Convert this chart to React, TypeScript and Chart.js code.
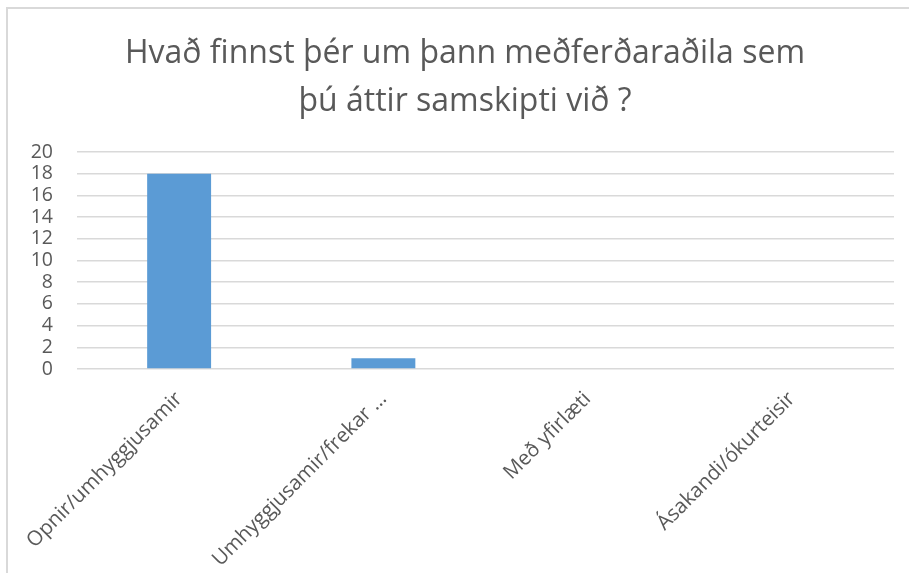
import React, { useEffect, useRef } from "react";
import { Chart, registerables } from "chart.js";

Chart.register(...registerables);

const titleLines = ["Hvað finnst þér um þann meðferðaraðila sem", "þú áttir samskipti við ?"];
const categories = ["Opnir/umhyggjusamir", "Umhyggjusamir/frekar …", "Með yfirlæti", "Ásakandi/ókurteisir"];
const values = [18, 1, 0, 0];
const yMin = 0;
const yMax = 20;
const yStep = 2;

const titleShift = {
  id: "titleShift",
  afterLayout(chart: any) {
    if (chart.titleBlock) {
      chart.titleBlock.left = 36;
    }
  },
};

export default function App() {
  const ref = useRef<HTMLCanvasElement>(null);
  useEffect(() => {
    if (!ref.current) return;
    const font = "'Open Sans', 'DejaVu Sans', sans-serif";
    const chart = new Chart(ref.current, {
      type: "bar",
      data: {
        labels: categories,
        datasets: [
          {
            data: values,
            backgroundColor: "#5b9bd5",
            barPercentage: 0.313,
            categoryPercentage: 1,
          },
        ],
      },
      plugins: [titleShift],
      options: {
        animation: false,
        responsive: false,
        maintainAspectRatio: false,
        layout: { padding: { left: 0, right: 15, top: 0, bottom: 0 } },
        plugins: {
          legend: { display: false },
          tooltip: { enabled: false },
          title: {
            display: true,
            text: titleLines,
            color: "#595959",
            font: { family: font, size: 32, weight: "normal", lineHeight: 1.5 },
            padding: { top: 30, bottom: 26 },
          },
        },
        scales: {
          x: {
            grid: { display: false },
            border: { display: false },
            ticks: {
              color: "#595959",
              font: { family: font, size: 20.5 },
              minRotation: 45,
              maxRotation: 45,
              autoSkip: false,
              padding: 10,
            },
            afterFit: (s: any) => {
              s.height = 204;
            },
          },
          y: {
            min: yMin,
            max: yMax,
            grid: { color: "#d9d9d9", lineWidth: 1.5, drawTicks: false },
            border: { display: false },
            ticks: {
              stepSize: yStep,
              autoSkip: false,
              color: "#595959",
              font: { family: font, size: 19.5 },
              padding: 24,
            },
            afterFit: (s: any) => {
              s.width = 77;
            },
          },
        },
      },
    } as any);
    return () => chart.destroy();
  }, []);
  return (
    <div style={{ position: "fixed", left: 0, top: 0, width: 909, height: 573, background: "#fff" }}>
      <canvas ref={ref} width={909} height={573} style={{ display: "block" }} />
      <div
        style={{
          position: "absolute",
          left: 6,
          top: 7,
          right: 0,
          bottom: 0,
          borderTop: "2px solid #d9d9d9",
          borderLeft: "2px solid #d9d9d9",
          pointerEvents: "none",
        }}
      />
    </div>
  );
}
